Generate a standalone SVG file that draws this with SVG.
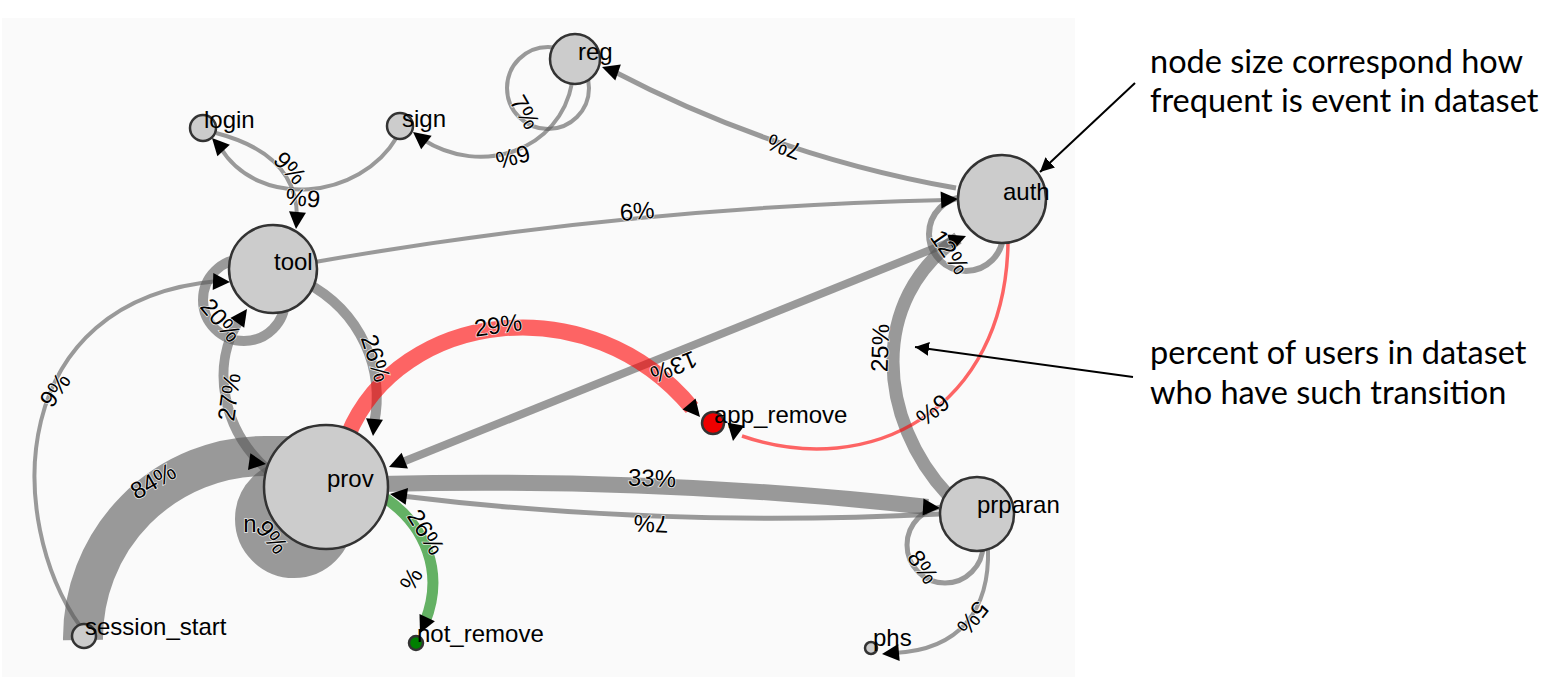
<svg xmlns="http://www.w3.org/2000/svg" xmlns:xlink="http://www.w3.org/1999/xlink" width="1560" height="700" viewBox="0 0 1560 700">
<style>
.e{fill:none;stroke:#595959;stroke-opacity:0.6}
.r{fill:none;stroke:#ff0000;stroke-opacity:0.6}
.g{fill:none;stroke:#008000;stroke-opacity:0.6}
.n{fill:#cccccc;stroke:#333333;stroke-width:2.5}
.nt{font-family:"Liberation Sans",Arial,sans-serif;font-size:24px;fill:#000}
.lb{font-family:"Liberation Sans",Arial,sans-serif;font-size:24px;fill:#000;text-anchor:middle;stroke:#ffffff;stroke-width:1.5;stroke-opacity:0.8;paint-order:stroke}
.an{font-family:Lato,"Open Sans",sans-serif;font-size:32.5px;fill:#000}
.al{stroke:#000;stroke-width:2;fill:none}
</style>
<defs>
<path id="ah" d="M0,0 L-17,-8.5 L-17,8.5 Z" fill="#000"/>
<marker id="am" markerUnits="userSpaceOnUse" markerWidth="16" markerHeight="14" refX="14" refY="7" orient="auto" viewBox="0 0 16 14"><path d="M0,0 L14,7 L0,14 Z" fill="#000"/></marker>
</defs>
<rect x="2" y="18" width="1073" height="659" fill="#fafafa"/>
<g id="connectors">
<path class="e" stroke-width="59" d="M264.5,519 a29.5,29.5 0 1,0 59,0 a29.5,29.5 0 1,0 -59,0"/>
<path class="e" stroke-width="40" d="M83,640 A182,182 0 0,1 265,456 L305,456"/>
<path class="e" stroke-width="4" d="M397,137 C360,200 258,210 220,147"/>
<path class="e" stroke-width="4" d="M216,133 C262,145 297,170 297,217"/>
<path class="e" stroke-width="4" d="M572,83 C560,150 482,178 422,139"/>
<circle class="e" stroke-width="4" cx="548" cy="88" r="41"/>
<path class="e" stroke-width="5" d="M956,188 Q775,156 613,71"/>
<path class="e" stroke-width="4" d="M315,262 Q628,207 946,200"/>
<path class="e" stroke-width="4" d="M80,626 C5,520 5,300 218,281"/>
<circle class="e" stroke-width="10" cx="244" cy="300" r="41"/>
<path class="e" stroke-width="10" d="M268,470 C222,430 210,365 240,319"/>
<path class="e" stroke-width="10" d="M305,282 C362,312 385,370 374,424"/>
<path class="e" stroke-width="8" d="M400,463 L955,240"/>
<path class="e" stroke-width="13" d="M948,495 C878,420 868,300 958,238"/>
<circle class="e" stroke-width="6" cx="966" cy="234" r="37"/>
<path class="e" stroke-width="16" d="M380,484 Q660,477 928,507"/>
<path class="e" stroke-width="5" d="M940,514 Q662,528 402,496"/>
<circle class="e" stroke-width="5" cx="945" cy="545" r="38"/>
<path class="e" stroke-width="4" d="M988,548 C990,610 960,650 894,653"/>
<path class="r" stroke-width="16" d="M348,435 C400,310 590,285 692,408"/>
<path class="r" stroke-width="3.5" d="M1008,243 C1005,410 870,480 742,436"/>
<path class="g" stroke-width="11" d="M385,498 C425,525 445,572 425,622"/>
<use href="#ah" transform="translate(212,138) rotate(-133)"/>
<use href="#ah" transform="translate(296,229) rotate(95)"/>
<use href="#ah" transform="translate(413,132) rotate(-142)"/>
<use href="#ah" transform="translate(602,67) rotate(199)"/>
<use href="#ah" transform="translate(230,282) rotate(2)"/>
<use href="#ah" transform="translate(247,309) rotate(-55)"/>
<use href="#ah" transform="translate(373,436) rotate(95)"/>
<use href="#ah" transform="translate(266,464) rotate(8)"/>
<use href="#ah" transform="translate(389,467) rotate(158)"/>
<use href="#ah" transform="translate(966,236) rotate(-22)"/>
<use href="#ah" transform="translate(390,494) rotate(188)"/>
<use href="#ah" transform="translate(700,417) rotate(50)"/>
<use href="#ah" transform="translate(733,441) rotate(100)"/>
<use href="#ah" transform="translate(958,199) rotate(-3)"/>
<use href="#ah" transform="translate(940,508) rotate(3)"/>
<use href="#ah" transform="translate(882,654) rotate(175)"/>
<use href="#ah" transform="translate(420,633) rotate(115)"/>
</g>
<g id="edge-labels">
<text class="lb" dy=".35em" transform="translate(290,168) rotate(47)">9%</text>
<text class="lb" dy=".35em" transform="translate(303,198) rotate(185)">6%</text>
<text class="lb" dy=".35em" transform="translate(513,157) rotate(165)">6%</text>
<text class="lb" dy=".35em" transform="translate(525,112) rotate(60)">7%</text>
<text class="lb" dy=".35em" transform="translate(784,147) rotate(200)">7%</text>
<text class="lb" dy=".35em" transform="translate(637,211) rotate(-5)">6%</text>
<text class="lb" dy=".35em" transform="translate(55,390) rotate(-55)">9%</text>
<text class="lb" dy=".35em" transform="translate(221,320) rotate(50)">20%</text>
<text class="lb" dy=".35em" transform="translate(229,397) rotate(-82)">27%</text>
<text class="lb" dy=".35em" transform="translate(376,358) rotate(72)">26%</text>
<text class="lb" dy=".35em" transform="translate(153,481) rotate(-30)">84%</text>
<text class="lb" x="250" y="532">n</text>
<text class="lb" dy=".35em" transform="translate(272,537) rotate(52)">9%</text>
<text class="lb" dy=".35em" transform="translate(498,325) rotate(-8)">29%</text>
<text class="lb" dy=".35em" transform="translate(674,367) rotate(158)">13%</text>
<text class="lb" dy=".35em" transform="translate(950,252) rotate(55)">12%</text>
<text class="lb" dy=".35em" transform="translate(880,348) rotate(-88)">25%</text>
<text class="lb" dy=".35em" transform="translate(933,410) rotate(141)">6%</text>
<text class="lb" dy=".35em" transform="translate(652,478) rotate(2)">33%</text>
<text class="lb" dy=".35em" transform="translate(651,524) rotate(182)">7%</text>
<text class="lb" dy=".35em" transform="translate(923,567) rotate(55)">8%</text>
<text class="lb" dy=".35em" transform="translate(973,618) rotate(128)">5%</text>
<text class="lb" dy=".35em" transform="translate(426,532) rotate(58)">26%</text>
<text class="lb" dy=".35em" transform="translate(411,579) rotate(-60)">%</text>
</g>
<g id="node-reg"><circle class="n" cx="575" cy="59" r="25"/><text class="nt" x="578" y="60">reg</text></g>
<g id="node-login"><circle class="n" cx="203" cy="128" r="13"/><text class="nt" x="204" y="128">login</text></g>
<g id="node-sign"><circle class="n" cx="400" cy="126" r="13"/><text class="nt" x="402" y="127">sign</text></g>
<g id="node-auth"><circle class="n" cx="1002" cy="199" r="44"/><text class="nt" x="1003" y="200">auth</text></g>
<g id="node-tool"><circle class="n" cx="273" cy="269" r="44"/><text class="nt" x="274" y="270">tool</text></g>
<g id="node-prov"><circle class="n" cx="326" cy="487" r="62"/><text class="nt" x="327" y="487">prov</text></g>
<g id="node-app_remove"><circle class="n" cx="713" cy="423" r="11" style="fill:#ee0000"/><text class="nt" x="714" y="423">app_remove</text></g>
<g id="node-prparam"><circle class="n" cx="977" cy="514" r="37"/><text class="nt" x="977" y="513">prparan</text></g>
<g id="node-session_start"><circle class="n" cx="84" cy="636" r="12"/><text class="nt" x="85" y="635">session_start</text></g>
<g id="node-not_remove"><circle class="n" cx="416" cy="643" r="7" style="fill:#008000"/><text class="nt" x="417" y="642">not_remove</text></g>
<g id="node-phs"><circle class="n" cx="871" cy="648" r="6"/><text class="nt" x="873" y="646">phs</text></g>
<g id="annotations">
<line class="al" x1="1135" y1="83" x2="1040" y2="172" marker-end="url(#am)"/>
<line class="al" x1="1133" y1="377" x2="915" y2="347" marker-end="url(#am)"/>
<text class="an" x="1150" y="73">node size correspond how</text>
<text class="an" x="1150" y="112">frequent is event in dataset</text>
<text class="an" x="1150" y="364">percent of users in dataset</text>
<text class="an" x="1150" y="404">who have such transition</text>
</g>
</svg>
